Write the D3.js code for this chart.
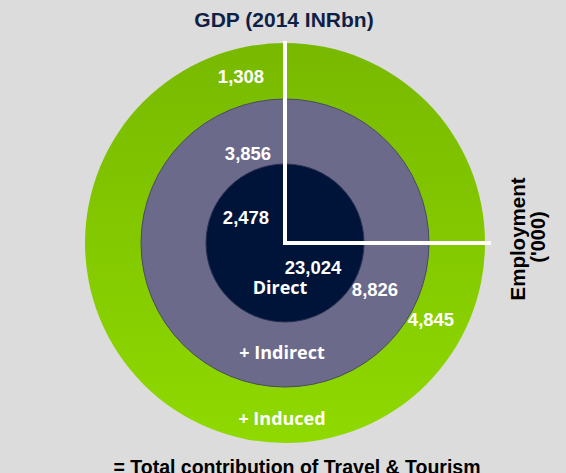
<!DOCTYPE html>
<html>
<head>
<meta charset="utf-8">
<script src="https://cdn.jsdelivr.net/npm/d3@7"></script>
<style>
  body { margin: 0; background: #dcdcdc; }
  svg { display: block; }
</style>
</head>
<body>
<script>
// rings from outside in
var rings = ["+ Induced", "+ Indirect", "Direct"];
var gdp = [1308, 3856, 2478];          // GDP (2014 INRbn)
var employment = [4845, 8826, 23024];  // Employment ('000)

var w = 566, h = 473;
var cx = 285, cy = 243;

var fmt = d3.format(",");

var svg = d3.select("body").append("svg")
    .attr("width", w)
    .attr("height", h);

svg.append("rect").attr("width", w).attr("height", h).attr("fill", "#dcdcdc");

// green gradient for the outer ring
var grad = svg.append("defs").append("linearGradient")
    .attr("id", "green").attr("x1", 0).attr("y1", 0).attr("x2", 0).attr("y2", 1);
grad.append("stop").attr("offset", "0%").attr("stop-color", "#78b900");
grad.append("stop").attr("offset", "100%").attr("stop-color", "#8fd900");

var rScale = d3.scaleOrdinal().domain(rings).range([200, 144, 79]);
var fill = d3.scaleOrdinal().domain(rings).range(["url(#green)", "#6b6a8b", "#00143a"]);
var stroke = d3.scaleOrdinal().domain(rings).range(["none", "#4a4a62", "#2a3050"]);

var g = svg.append("g").attr("transform", "translate(" + cx + "," + cy + ")");

g.selectAll("circle")
    .data(rings)
    .enter()
    .append("circle")
    .attr("r", function(d) { return rScale(d); })
    .attr("fill", function(d) { return fill(d); })
    .attr("stroke", function(d) { return stroke(d); })
    .attr("stroke-width", 1);

// dividing lines
g.append("line").attr("x1", 0).attr("y1", 2).attr("x2", 0).attr("y2", -202)
    .attr("stroke", "#fff").attr("stroke-width", 4);
g.append("line").attr("x1", -2).attr("y1", 0).attr("x2", 206).attr("y2", 0)
    .attr("stroke", "#fff").attr("stroke-width", 4);

// value label offsets (relative to centre)
var gdpPos = [[-44, -160], [-37, -83], [-39, -19]];
var empPos = [[146, 83], [90, 53], [28, 31]];

var numFont = "'Liberation Sans', Arial, sans-serif";
var nameFont = "'Open Sans', Lato, sans-serif";

g.selectAll("text.gdp")
    .data(gdp)
    .enter()
    .append("text")
    .attr("class", "gdp")
    .attr("x", function(d, i) { return gdpPos[i][0]; })
    .attr("y", function(d, i) { return gdpPos[i][1]; })
    .attr("text-anchor", "middle")
    .style("font-family", numFont)
    .style("font-weight", "bold")
    .style("font-size", "18.5px")
    .style("fill", "#fff")
    .text(function(d) { return fmt(d); });

g.selectAll("text.emp")
    .data(employment)
    .enter()
    .append("text")
    .attr("class", "emp")
    .attr("x", function(d, i) { return empPos[i][0]; })
    .attr("y", function(d, i) { return empPos[i][1]; })
    .attr("text-anchor", "middle")
    .style("font-family", numFont)
    .style("font-weight", "bold")
    .style("font-size", "18.5px")
    .style("fill", "#fff")
    .text(function(d) { return fmt(d); });

var namePos = [[-3, 182], [-3, 116], [-5, 51]];
g.selectAll("text.ring")
    .data(rings)
    .enter()
    .append("text")
    .attr("class", "ring")
    .attr("x", function(d, i) { return namePos[i][0]; })
    .attr("y", function(d, i) { return namePos[i][1]; })
    .attr("text-anchor", "middle")
    .style("font-family", nameFont)
    .style("font-weight", "bold")
    .style("font-size", "18px")
    .style("fill", "#fff")
    .text(function(d) { return d; });

// titles
svg.append("text")
    .attr("x", 284).attr("y", 27)
    .attr("text-anchor", "middle")
    .style("font-family", numFont)
    .style("font-weight", "bold")
    .style("font-size", "21px")
    .style("fill", "#0f1f45")
    .text("GDP (2014 INRbn)");

svg.append("text")
    .attr("transform", "translate(525,239) rotate(-90)")
    .attr("text-anchor", "middle")
    .style("font-family", numFont)
    .style("font-weight", "bold")
    .style("font-size", "20.5px")
    .style("fill", "#000")
    .text("Employment");

svg.append("text")
    .attr("transform", "translate(545,237) rotate(-90)")
    .attr("text-anchor", "middle")
    .style("font-family", numFont)
    .style("font-weight", "bold")
    .style("font-size", "20px")
    .style("fill", "#000")
    .text("('000)");

svg.append("text")
    .attr("x", 297).attr("y", 474)
    .attr("text-anchor", "middle")
    .style("font-family", numFont)
    .style("font-weight", "bold")
    .style("font-size", "19.5px")
    .style("fill", "#000")
    .text("= Total contribution of Travel & Tourism");
</script>
</body>
</html>
